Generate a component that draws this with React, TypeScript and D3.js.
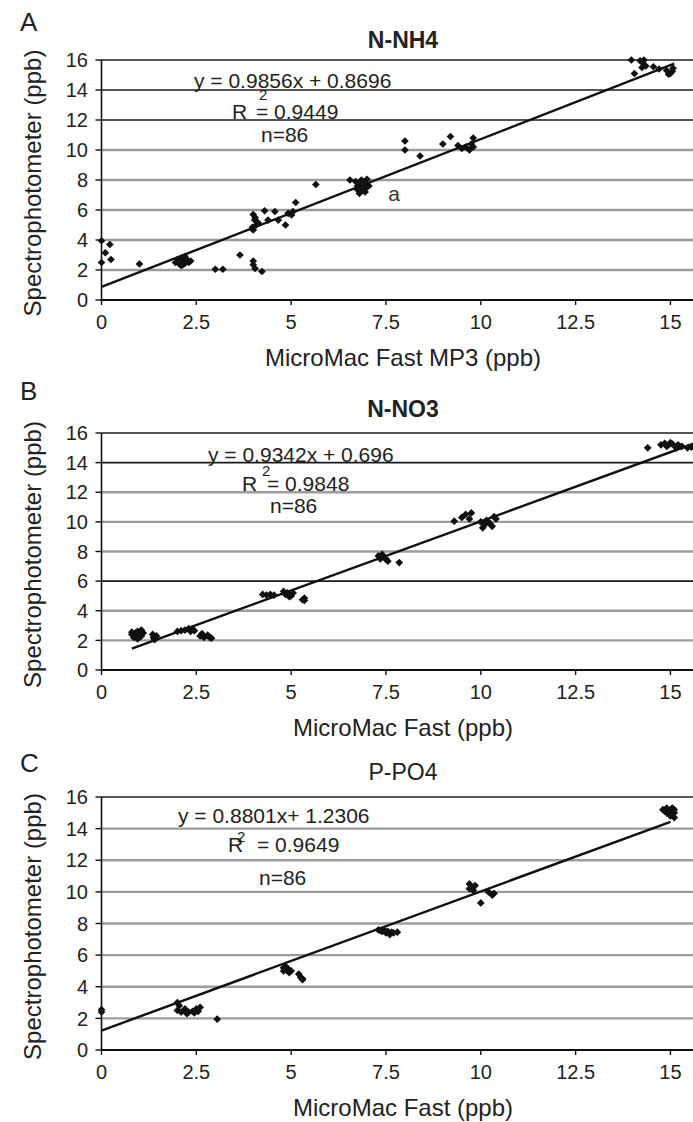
import React from "react";
import * as d3 from "d3";

const xTickValues = [0, 2.5, 5, 7.5, 10, 12.5, 15];
const yTickValues = [0, 2, 4, 6, 8, 10, 12, 14, 16];

// MicroMac (x) vs spectrophotometer (y)
const nh4Points: [number, number][] = [
  [0, 3.95], [0.22, 3.7], [0.1, 3.15], [0.25, 2.7], [0, 2.5], [1.0, 2.4],
  [1.95, 2.5], [2.0, 2.7], [2.05, 2.4], [2.1, 2.8], [2.1, 2.3], [2.15, 2.6],
  [2.2, 2.9], [2.2, 2.45], [2.25, 2.7], [2.3, 2.5], [2.05, 2.6], [2.15, 2.35],
  [2.35, 2.6], [3.0, 2.05], [3.2, 2.05], [3.65, 3.0], [4.0, 2.6], [4.0, 2.35],
  [4.05, 2.1], [4.23, 1.9], [4.0, 5.7], [4.04, 5.33], [4.08, 5.0], [4.0, 4.67],
  [4.13, 5.15], [3.98, 4.85], [4.05, 5.5], [4.3, 5.95], [4.39, 5.33], [4.57, 5.9],
  [4.66, 5.33], [4.85, 5.0], [4.92, 5.78], [5.01, 5.67], [5.05, 5.9], [5.12, 6.5],
  [5.65, 7.7], [6.55, 8.0], [6.7, 7.9], [6.75, 7.6], [6.8, 7.8], [6.8, 7.1],
  [6.85, 7.3], [6.85, 8.0], [6.9, 7.5], [6.9, 7.9], [6.95, 7.2], [7.0, 7.7],
  [7.0, 8.05], [6.95, 7.4], [6.75, 7.35], [7.05, 7.6], [8.0, 10.6], [8.0, 10.0],
  [8.4, 9.6], [9.0, 10.4], [9.2, 10.9], [9.4, 10.3], [9.5, 10.1], [9.6, 10.2],
  [9.7, 10.0], [9.75, 10.4], [9.8, 10.2], [9.8, 10.8], [13.97, 16.0], [14.3, 16.0],
  [14.05, 15.1], [14.27, 15.8], [14.35, 15.6], [14.25, 15.5], [14.55, 15.55],
  [14.7, 15.4], [14.9, 15.3], [15.0, 15.1], [15.07, 15.45], [14.95, 15.05],
  [14.2, 15.95], [15.05, 15.25],
];

const no3Points: [number, number][] = [
  [0.8, 2.4], [0.85, 2.2], [0.9, 2.5], [0.9, 2.3], [0.95, 2.6], [1.0, 2.2],
  [1.0, 2.45], [1.05, 2.7], [1.05, 2.3], [1.1, 2.5], [0.8, 2.55], [0.95, 2.1],
  [1.35, 2.4], [1.37, 2.2], [1.4, 2.05], [1.45, 2.3], [2.0, 2.6], [2.1, 2.65],
  [2.2, 2.7], [2.3, 2.8], [2.35, 2.6], [2.4, 2.75], [2.45, 2.65], [2.6, 2.3],
  [2.65, 2.45], [2.7, 2.2], [2.8, 2.35], [2.85, 2.2], [2.9, 2.15], [4.25, 5.1],
  [4.35, 5.05], [4.45, 5.1], [4.55, 5.05], [4.8, 5.3], [4.85, 5.1], [4.9, 5.2],
  [5.0, 5.0], [5.05, 5.2], [4.95, 4.95], [5.35, 4.85], [5.35, 4.7], [5.3, 4.75],
  [7.3, 7.7], [7.35, 7.5], [7.4, 7.8], [7.45, 7.6], [7.5, 7.5], [7.4, 7.65],
  [7.55, 7.35], [7.85, 7.25], [9.3, 10.05], [9.5, 10.3], [9.6, 10.5], [9.75, 10.6],
  [9.7, 10.2], [10.0, 10.0], [10.05, 9.6], [10.1, 9.8], [10.15, 10.1], [10.2, 10.0],
  [10.3, 9.7], [10.35, 10.35], [10.4, 10.2], [10.25, 9.85], [14.4, 15.0],
  [14.75, 15.2], [14.85, 15.3], [14.9, 15.1], [14.95, 15.2], [15.05, 15.25],
  [15.15, 15.0], [15.2, 15.2], [15.3, 15.1], [15.45, 15.0], [15.55, 15.05],
  [15.0, 15.35],
];

const po4Points: [number, number][] = [
  [0, 2.4], [0, 2.55], [2.0, 3.0], [2.0, 2.5], [2.05, 2.8], [2.1, 2.4],
  [2.2, 2.6], [2.3, 2.4], [2.4, 2.45], [2.5, 2.6], [2.55, 2.45], [2.6, 2.7],
  [2.25, 2.3], [2.45, 2.35], [3.05, 1.95], [4.8, 5.2], [4.85, 5.1], [4.9, 5.0],
  [4.95, 4.9], [4.9, 5.15], [5.0, 5.0], [4.85, 5.3], [4.95, 5.05], [4.8, 5.0],
  [5.2, 4.8], [5.25, 4.6], [5.3, 4.45], [5.3, 4.5], [7.3, 7.6], [7.35, 7.55],
  [7.4, 7.5], [7.5, 7.4], [7.55, 7.5], [7.6, 7.3], [7.65, 7.45], [7.7, 7.4],
  [7.8, 7.45], [7.45, 7.6], [9.7, 10.5], [9.75, 10.3], [9.8, 10.1], [9.85, 10.4],
  [9.7, 10.2], [10.0, 9.3], [10.2, 10.0], [10.3, 9.8], [10.35, 9.9], [14.8, 15.2],
  [14.9, 15.3], [15.0, 15.2], [15.1, 15.0], [15.0, 14.8], [15.1, 14.7],
  [14.9, 15.0], [15.05, 15.3], [14.85, 15.1], [15.1, 15.2],
];

// trend lines: slope, intercept, drawn x extent
const nh4Fit = { slope: 0.9856, intercept: 0.8696, from: 0, to: 15.1 };
const no3Fit = { slope: 0.9342, intercept: 0.696, from: 0.8, to: 15.7 };
const po4Fit = { slope: 0.8801, intercept: 1.2306, from: 0, to: 15.0 };

const nh4Text = ["y = 0.9856x + 0.8696", "= 0.9449", "n=86"];
const no3Text = ["y = 0.9342x + 0.696", "= 0.9848", "n=86"];
const po4Text = ["y = 0.8801x+ 1.2306", "= 0.9649", "n=86"];

const FONT = "'Liberation Sans', Arial, Helvetica, sans-serif";
const INK = "#222";

const panels = [
  {
    letter: "A", title: "N-NH4", bold: true, xLabel: "MicroMac Fast MP3 (ppb)",
    points: nh4Points, fit: nh4Fit, text: nh4Text, dark: [16, 14, 12],
    top: 60, bottom: 300, letterY: 31, titleY: 48,
    eq: [194, 88], r: [232, 119], sup: [259, 100], rest: [256, 119], n: [261, 142],
    note: true,
  },
  {
    letter: "B", title: "N-NO3", bold: true, xLabel: "MicroMac Fast (ppb)",
    points: no3Points, fit: no3Fit, text: no3Text, dark: [16, 14, 6],
    top: 433, bottom: 670, letterY: 400, titleY: 417,
    eq: [208, 462], r: [242, 491], sup: [262, 476], rest: [267, 491], n: [270, 513],
    note: false,
  },
  {
    letter: "C", title: "P-PO4", bold: false, xLabel: "MicroMac Fast (ppb)",
    points: po4Points, fit: po4Fit, text: po4Text, dark: [16],
    top: 797, bottom: 1050, letterY: 772, titleY: 780,
    eq: [178, 823], r: [228, 852], sup: [237, 842], rest: [257, 852], n: [259, 885],
    note: false,
  },
];

const W = 693;
const H = 1122;
const x = d3.scaleLinear().domain([0, 16]).range([101.5, 101.5 + 16 * 37.93]);
// Excel-style diamond: a square turned by 45 degrees
const marker = d3.symbol().type(d3.symbolSquare).size(30)();

function Panel({ p }: { p: (typeof panels)[number] }) {
  const y = d3.scaleLinear().domain([0, 16]).range([p.bottom, p.top]);
  const fitLine = d3
    .line<number>()
    .x((d) => x(d))
    .y((d) => y(p.fit.slope * d + p.fit.intercept));
  const cx = 403;
  const x0 = x(0);

  return (
    <g fontFamily={FONT} fill={INK}>
      <text x={20} y={p.letterY} fontSize={26}>{p.letter}</text>
      <text x={cx} y={p.titleY} fontSize={23} fontWeight={p.bold ? "bold" : "normal"} textAnchor="middle">
        {p.title}
      </text>

      {yTickValues.map((v) => {
        const dark = p.dark.includes(v);
        return v === 0 ? null : (
          <line key={v} x1={x0} x2={W} y1={y(v)} y2={y(v)}
            stroke={dark ? "#1c1c1c" : "#9c9c9c"} strokeWidth={dark ? 1.6 : 2.4} />
        );
      })}

      {/* y axis */}
      <line x1={x0} x2={x0} y1={y(0)} y2={y(16)} stroke="#111" strokeWidth={1.6} />
      {yTickValues.map((v) => (
        <g key={v}>
          <line x1={x0 - 6} x2={x0} y1={y(v)} y2={y(v)} stroke="#111" strokeWidth={1.4} />
          <text x={88} y={y(v)} dy="0.36em" fontSize={20} textAnchor="end">{v}</text>
        </g>
      ))}

      {/* x axis */}
      <line x1={x0} x2={W} y1={y(0)} y2={y(0)} stroke="#111" strokeWidth={1.8} />
      {xTickValues.map((v) => (
        <g key={v}>
          <line x1={x(v)} x2={x(v)} y1={y(0)} y2={y(0) + 5} stroke="#111" strokeWidth={1.4} />
          <text x={x(v)} y={y(0) + 29} fontSize={20} textAnchor="middle">{v}</text>
        </g>
      ))}

      <text x={cx} y={y(0) + 66} fontSize={24} textAnchor="middle">{p.xLabel}</text>
      <text transform={`translate(41,${(p.top + p.bottom) / 2 + 3}) rotate(-90)`}
        fontSize={24} textAnchor="middle">
        Spectrophotometer (ppb)
      </text>

      <path d={fitLine([p.fit.from, p.fit.to]) ?? ""} stroke="#111" strokeWidth={2.4} fill="none" />

      {p.points.map((d, i) => (
        <path key={i} d={marker ?? ""} transform={`translate(${x(d[0])},${y(d[1])}) rotate(45)`} fill="#111" />
      ))}

      <text x={p.eq[0]} y={p.eq[1]} fontSize={21}>{p.text[0]}</text>
      <text x={p.r[0]} y={p.r[1]} fontSize={21}>R</text>
      <text x={p.sup[0]} y={p.sup[1]} fontSize={15}>2</text>
      <text x={p.rest[0]} y={p.rest[1]} fontSize={21}>{p.text[1]}</text>
      <text x={p.n[0]} y={p.n[1]} fontSize={21}>{p.text[2]}</text>
      {p.note && <text x={394} y={201} fontSize={21} textAnchor="middle" fill="#333">a</text>}
    </g>
  );
}

export default function App() {
  return (
    <svg width={W} height={H} style={{ position: "absolute", left: 0, top: 0, background: "#fff" }}>
      <rect width={W} height={H} fill="#fff" />
      {panels.map((p) => (
        <Panel key={p.letter} p={p} />
      ))}
    </svg>
  );
}
